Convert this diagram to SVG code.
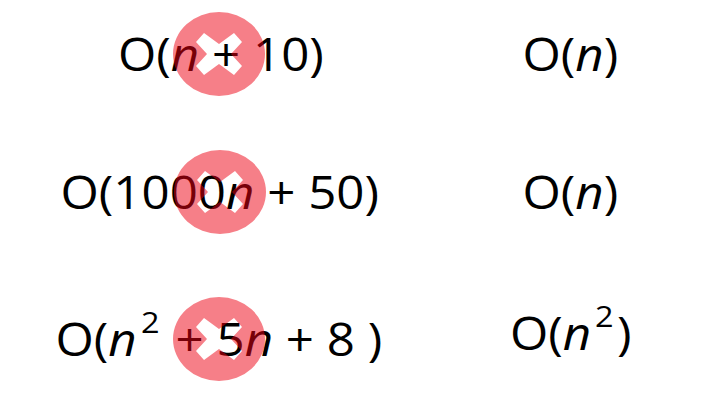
<svg xmlns="http://www.w3.org/2000/svg" width="707" height="406" viewBox="0 0 707 406">
<defs>
<style>
text{font-family:"Open Sans","Noto Sans",sans-serif;font-size:45px;fill:#000}
.i{font-style:italic}
.s{font-size:29px}
.c{fill:#ee0012;fill-opacity:.5;fill-rule:evenodd}
</style>
<path id="badge" class="c" d="M-46 0A46 42 0 1 0 46 0A46 42 0 1 0 -46 0ZM-15 -21L0 -10L15 -21L23 -12L12 0L23 12L15 21L0 10L-15 21L-23 12L-12 0L-23 -12Z"/>
</defs>
<rect width="707" height="406" fill="#fff"/>
<g id="row1-left"><text transform="translate(118 71) scale(1.095 1)">O(<tspan class="i">n</tspan> + 10)</text></g>
<g id="row2-left"><text transform="translate(60.5 209) scale(1.095 1)">O(1000<tspan class="i">n</tspan> + 50)</text></g>
<g id="row3-left"><text transform="translate(55.5 355.5) scale(1.095 1)">O(<tspan class="i">n</tspan></text><text class="s" transform="translate(141 333) scale(1.12 1)">2</text><text transform="translate(175.5 355.5) scale(1.095 1)">+ 5<tspan class="i">n</tspan> + 8 )</text></g>
<g id="row1-right"><text transform="translate(522.5 71) scale(1.095 1)">O(<tspan class="i">n</tspan>)</text></g>
<g id="row2-right"><text transform="translate(522.5 209) scale(1.095 1)">O(<tspan class="i">n</tspan>)</text></g>
<g id="row3-right"><text transform="translate(510 349.5) scale(1.095 1)">O(<tspan class="i">n</tspan></text><text class="s" transform="translate(595 327) scale(1.12 1)">2</text><text transform="translate(617 349.5) scale(1.095 1)">)</text></g>
<g id="badge1"><use href="#badge" x="219" y="54"/></g>
<g id="badge2"><use href="#badge" x="220" y="192"/></g>
<g id="badge3"><use href="#badge" x="219" y="339"/></g>
</svg>
